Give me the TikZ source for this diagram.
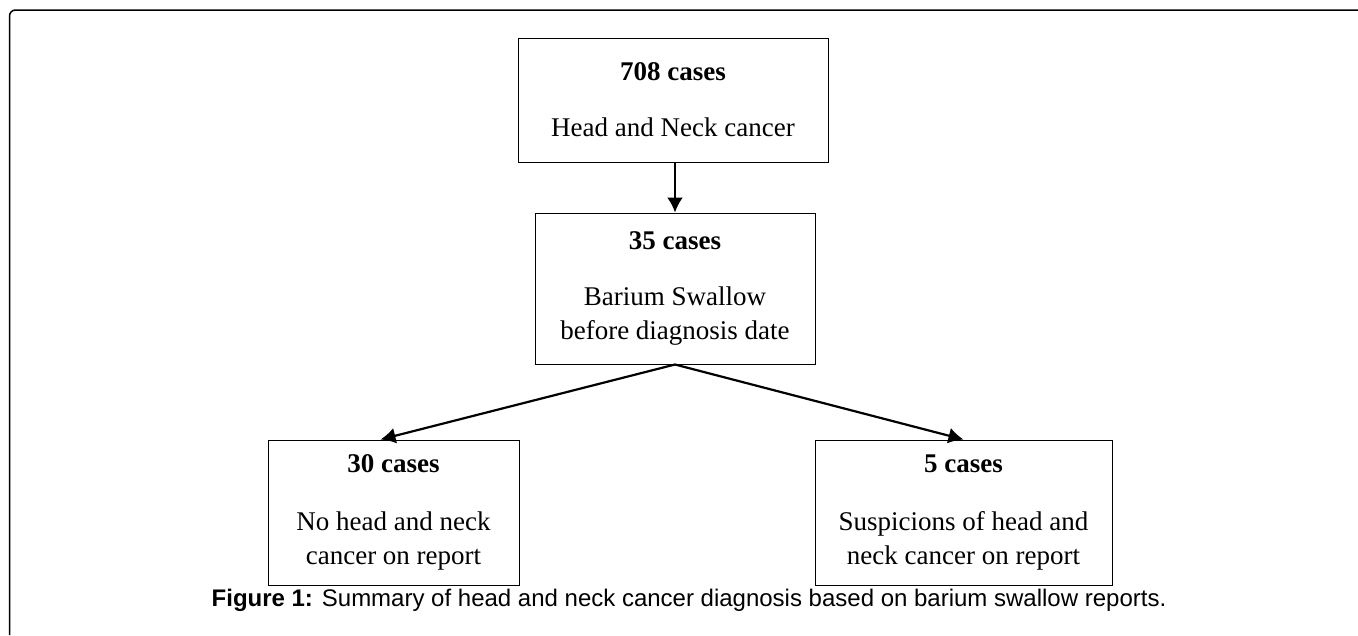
\documentclass[tikz,border=0pt]{standalone}
\usepackage{fontspec}
\setmainfont{Liberation Serif}
\newfontfamily\capfont{Liberation Sans}
\usetikzlibrary{positioning,arrows.meta}
\tikzset{
  casebox/.style={draw, line width=1pt, align=center, inner sep=0pt,
    font=\fontsize{27}{34}\selectfont},
  flow/.style={line width=2.2pt, -{Latex[length=15pt,width=16pt]}}
}
\begin{document}
\begin{tikzpicture}
\useasboundingbox (0pt,0pt) rectangle (1358pt,-635pt);
\draw[line width=1.5pt, rounded corners=6pt] (1358pt,-10pt) -- (9.5pt,-10pt) -- (9.5pt,-635pt);
\node[casebox, minimum width=310pt, minimum height=124pt] (all) at (673pt,-100pt)
  {{\bfseries 708 cases}\\[22pt]Head and Neck cancer};
\node[casebox, minimum width=280pt, minimum height=151pt, below=50pt of all, xshift=2pt] (swallow)
  {{\bfseries 35 cases}\\[22pt]Barium Swallow\\before diagnosis date};
\node[casebox, minimum width=251pt, minimum height=145pt, below=75pt of swallow, xshift=-281.5pt] (none)
  {{\bfseries 30 cases}\\[24pt]No head and neck\\cancer on report};
\node[casebox, minimum width=297pt, minimum height=145pt, below=75pt of swallow, xshift=288.5pt] (susp)
  {{\bfseries 5 cases}\\[24pt]Suspicions of head and\\neck cancer on report};
\draw[flow] (all.south -| swallow.north) -- (swallow.north);
\draw[flow] (swallow.south) -- ([xshift=-13pt]none.north);
\draw[flow] (swallow.south) -- (susp.north);
\node[font=\capfont\fontsize{24}{28}\selectfont] (caption) at (689pt,-600pt)
  {{\bfseries Figure 1:} Summary of head and neck cancer diagnosis based on barium swallow reports.};
\end{tikzpicture}
\end{document}
